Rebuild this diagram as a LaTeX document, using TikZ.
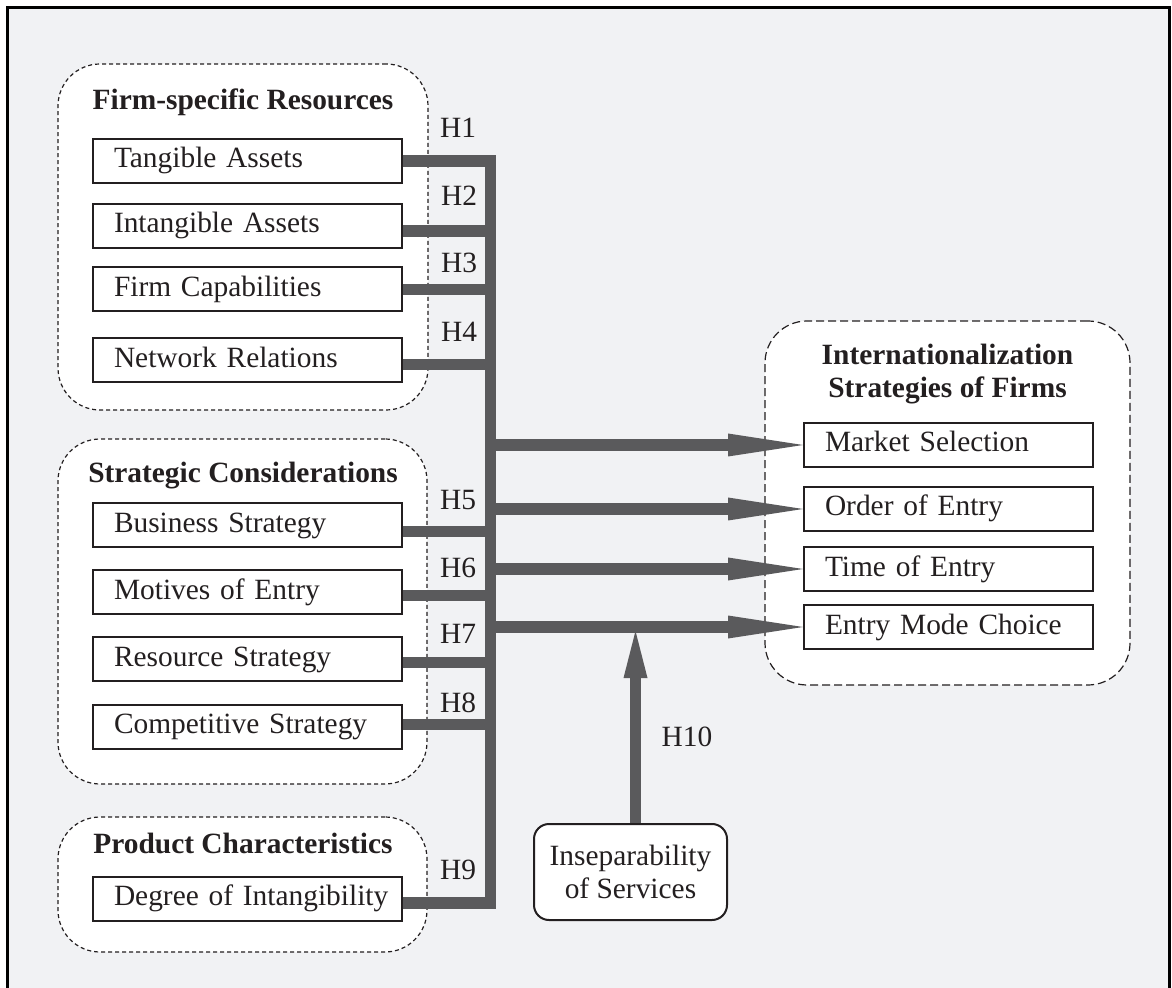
\documentclass[tikz,border=0pt]{standalone}
\usepackage{fontspec}
\setmainfont{Liberation Serif}
\usetikzlibrary{arrows.meta}
\definecolor{bgpanel}{RGB}{241,242,244}
\definecolor{barfill}{RGB}{90,90,92}
\definecolor{ink}{RGB}{35,31,32}
\tikzset{
  every node/.style={font=\fontsize{14.7}{16.5}\selectfont, text=ink},
  group/.style={draw=ink, line width=0.6pt, dash pattern=on 2pt off 1.5pt,
    fill=white, rounded corners=21pt, inner sep=0pt},
  groupwide/.style={group, dash pattern=on 4pt off 2pt},
  grouptitle/.style={font=\fontsize{14.7}{16.5}\selectfont\bfseries, inner sep=0pt},
  item/.style={draw=ink, line width=1pt, fill=white, text width=144pt,
    inner xsep=5.25pt, inner ysep=0pt, minimum height=22pt,
    text height=11pt, text depth=4pt, align=left,
    execute at begin node={\leftskip=5.25pt\hyphenpenalty=10000}},
  outcome/.style={item, text width=134pt},
  service/.style={draw=ink, line width=1pt, fill=white, rounded corners=7.5pt,
    minimum width=96.5pt, minimum height=48pt, align=center, inner sep=0pt},
  bar/.style={draw=barfill, line width=5.75pt, line join=miter},
  flow/.style={draw=barfill, line width=6pt,
    -{Triangle[length=37.5pt, width=11.5pt, line width=0pt]}},
  flowup/.style={draw=barfill, line width=5.5pt,
    -{Triangle[length=23.5pt, width=12pt, line width=0pt]}},
  hlabel/.style={inner sep=0pt}
}
\begin{document}
\begin{tikzpicture}[x=0.5pt,y=-0.5pt]
\useasboundingbox (0,0) rectangle (1172,988);
\clip (0,0) rectangle (1172,988);

% panel and frame
\fill[bgpanel] (7.5,7.5) rectangle (1169.5,1000);
\draw[line width=1.25pt, black] (7.5,1000) -- (7.5,7.5) -- (1169.5,7.5) -- (1169.5,1000);

% dashed groups
\node[group, minimum width=185pt, minimum height=173pt] (g1) at (243,237) {};
\node[group, minimum width=184.5pt, minimum height=172.5pt] (g2) at (242.5,611.5) {};
\node[group, minimum width=184.5pt, minimum height=67.5pt] (g3) at (242.5,884.5) {};
\node[groupwide, minimum width=182.5pt, minimum height=182pt] (g4) at (947.5,503) {};

% group titles
\node[grouptitle, anchor=base] (t1) at (243,110) {Firm-specific Resources};
\node[grouptitle, anchor=base] (t2) at (243,483) {Strategic Considerations};
\node[grouptitle, anchor=base] (t3) at (243,853) {Product Characteristics};
\node[grouptitle, align=center] (t4) at (947.5,374) {Internationalization\\Strategies of Firms};

% antecedents
\node[item] (tang) at (247.5,161) {Tangible Assets};
\node[item] (intang) at (247.5,226) {Intangible Assets};
\node[item] (capab) at (247.5,289.5) {Firm Capabilities};
\node[item] (netw) at (247.5,360.5) {Network Relations};
\node[item] (busi) at (247.5,525) {Business Strategy};
\node[item] (motv) at (247.5,592) {Motives of Entry};
\node[item] (rsrc) at (247.5,659) {Resource Strategy};
\node[item] (comp) at (247.5,726.5) {Competitive Strategy};
\node[item] (intg) at (247.5,898.5) {Degree of Intangibility};

% outcomes
\node[outcome] (mkt) at (948.5,445) {Market Selection};
\node[outcome] (ord) at (948.5,509) {Order of Entry};
\node[outcome] (tim) at (948.5,569) {Time of Entry};
\node[outcome] (emc) at (948.5,627) {Entry Mode Choice};

% moderator
\node[service] (ins) at (630.5,872) {Inseparability\\of Services};

% collecting spine and its branches
\coordinate (sp) at (490.5,0);
\coordinate (b1) at (tang.east);
\coordinate (b2) at ([yshift=-2.5pt]intang.east);
\coordinate (b3) at (capab.east);
\coordinate (b4) at ([yshift=-2pt]netw.east);
\coordinate (b5) at ([yshift=-3.25pt]busi.east);
\coordinate (b6) at ([yshift=-1.75pt]motv.east);
\coordinate (b7) at ([yshift=-1.75pt]rsrc.east);
\coordinate (b8) at ([yshift=1pt]comp.east);
\coordinate (b9) at ([yshift=-2.25pt]intg.east);
\draw[bar] (b1) -- (b1 -| sp) -- (b9 -| sp) -- (b9);
\foreach \b in {b2,b3,b4,b5,b6,b7,b8}
  \draw[bar] (\b) -- (\b -| sp);

% arrows to the outcomes
\foreach \t in {mkt,ord,tim,emc}
  \draw[flow] (\t.west -| sp) -- (\t.west);

% moderating effect
\coordinate (h10tip) at (635.5,631);
\draw[flowup] ([xshift=2.5pt]ins.north) -- (h10tip);

% hypothesis labels
\foreach \n/\x/\y in {1/458/128, 2/459/196, 3/459/263, 4/459/332, 5/458/500,
    6/458/568, 7/458/634, 8/458/703, 9/458/870, 10/687/737}
  \node[hlabel] (h\n) at (\x,\y) {H\n};
\end{tikzpicture}
\end{document}
